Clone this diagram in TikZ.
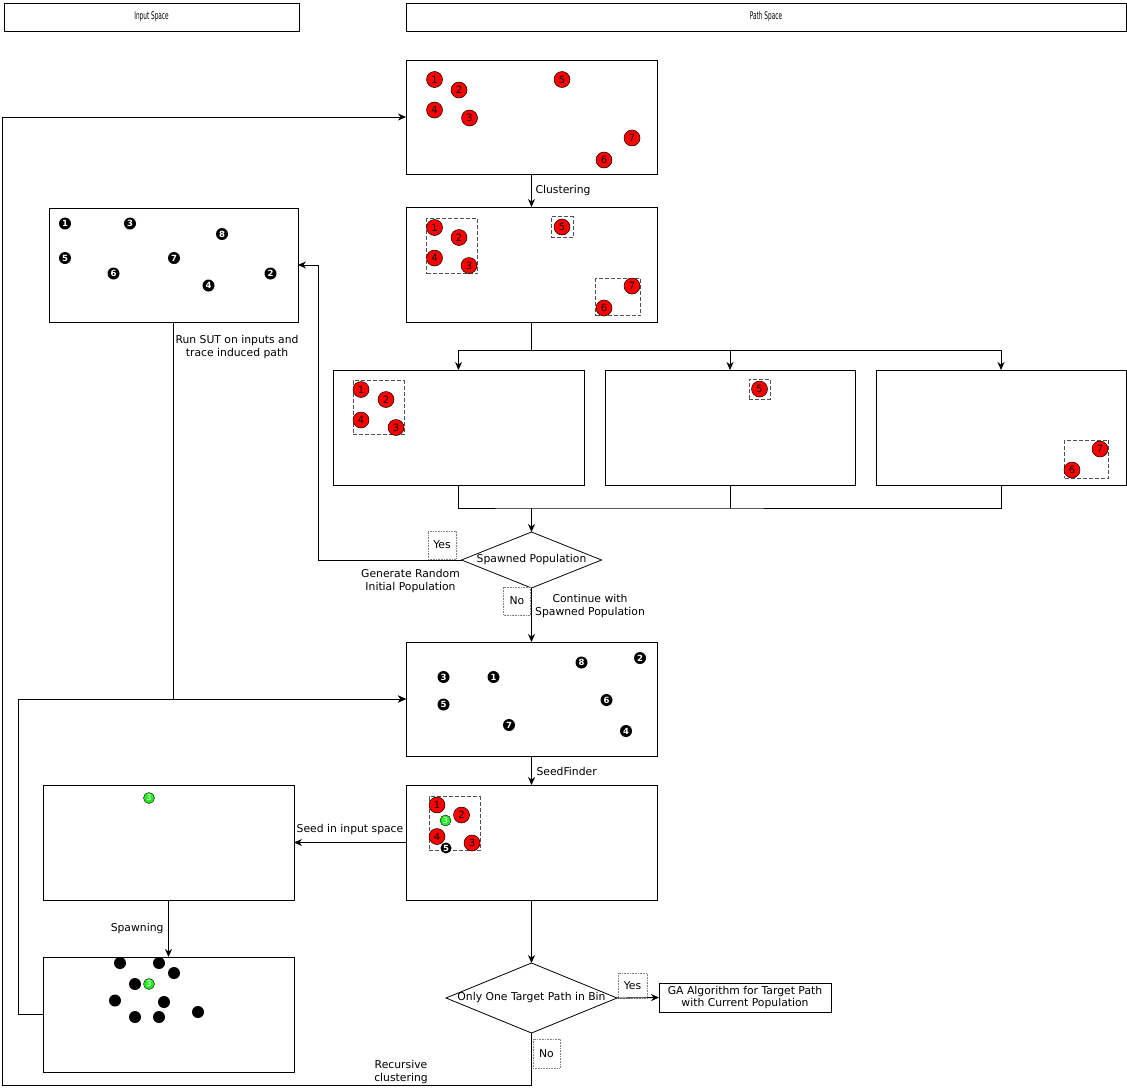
\documentclass[tikz,border=0pt]{standalone}
\usepackage{fontspec}
\setmainfont{DejaVu Sans}
\newfontfamily\narrowfont[FakeStretch=0.55]{DejaVu Sans}
\usetikzlibrary{arrows.meta,shapes.geometric}

\definecolor{ptred}{RGB}{255,0,0}
\definecolor{ptgreen}{RGB}{40,235,40}
\definecolor{dashgray}{RGB}{80,80,80}

\begin{document}
\begin{tikzpicture}[x=1pt,y=-1pt,
  font=\fontsize{10.8}{13}\selectfont,
  panel/.style={draw, line width=0.8pt, inner sep=0pt, outer sep=0pt, anchor=north west},
  header/.style={panel, font=\narrowfont\fontsize{10.5}{11}\selectfont},
  arr/.style={line width=0.8pt, -{Stealth[length=8pt,width=7pt]}},
  conn/.style={line width=0.8pt},
  cluster/.style={draw=dashgray, line width=0.8pt, dash pattern=on 4pt off 2pt, inner sep=0pt, outer sep=0pt, anchor=north west},
  redpt/.style={circle, draw=black, line width=0.5pt, fill=ptred, inner sep=0pt, minimum size=16pt, font=\fontsize{10}{10}\selectfont},
  blkpt/.style={circle, fill=black, text=white, inner sep=0pt, minimum size=12pt, font=\bfseries\fontsize{8.5}{8.5}\selectfont},
  grnpt/.style={circle, draw=black, line width=0.4pt, fill=ptgreen, text=white, inner sep=0pt, minimum size=11pt, font=\fontsize{8}{8}\selectfont},
  dotpt/.style={circle, fill=black, inner sep=0pt, minimum size=12pt},
  tag/.style={draw=gray, densely dotted, line width=0.6pt, inner sep=0pt, outer sep=0pt},
  decision/.style={diamond, draw, line width=0.8pt, inner sep=0pt, outer sep=0pt}
]
\useasboundingbox (0,0) rectangle (1127,1090);

% ---------- column headers ----------
\node[header, minimum width=295pt, minimum height=28pt] (hin) at (4,3) {Input Space};
\node[header, minimum width=720pt, minimum height=28pt] (hpath) at (406,3) {Path Space};

% ---------- panels ----------
\node[panel, minimum width=251pt, minimum height=114pt] (A) at (406,60) {};
\node[panel, minimum width=251pt, minimum height=115pt] (B) at (406,207) {};
\node[panel, minimum width=249pt, minimum height=114pt] (In1) at (49,208) {};
\node[panel, minimum width=251pt, minimum height=115pt] (C1) at (333,370) {};
\node[panel, minimum width=250pt, minimum height=115pt] (C2) at (605,370) {};
\node[panel, minimum width=250pt, minimum height=115pt] (C3) at (876,370) {};
\node[panel, minimum width=251pt, minimum height=114pt] (P) at (406,642) {};
\node[panel, minimum width=251pt, minimum height=115pt] (S) at (406,785) {};
\node[panel, minimum width=251pt, minimum height=115pt] (In2) at (43,785) {};
\node[panel, minimum width=251pt, minimum height=115pt] (In3) at (43,957) {};
\node[panel, minimum width=172pt, minimum height=29pt, align=center, font=\fontsize{10.8}{12}\selectfont] (GA) at (659,983) {GA Algorithm for Target Path\\with Current Population};

% ---------- decisions ----------
\node[decision, minimum width=140pt, minimum height=56pt] (D1) at (531.5,560) {};
\node (D1t) at (D1.center) {Spawned Population};
\node[decision, minimum width=171pt, minimum height=70pt] (D2) at (531.5,998) {};
\node (D2t) at (D2.center) {Only One Target Path in Bin};

% ---------- answer tags ----------
\node[tag, minimum width=28pt, minimum height=28pt] (yes1) at (442,545) {Yes};
\node[tag, minimum width=27pt, minimum height=28pt] (no1) at (517,601) {No};
\node[tag, minimum width=29pt, minimum height=25pt] (yes2) at (632.5,985.5) {Yes};
\node[tag, minimum width=27pt, minimum height=29pt] (no2) at (546.5,1053.5) {No};

% ---------- path space: all paths ----------
\node[redpt] (a1) at (434.5,79.5) {1};
\node[redpt] (a2) at (459,90) {2};
\node[redpt] (a4) at (434.5,110) {4};
\node[redpt] (a3) at (469.5,118) {3};
\node[redpt] (a5) at (562,79.5) {5};
\node[redpt] (a7) at (632,138) {7};
\node[redpt] (a6) at (604,160) {6};

% ---------- path space: clustered ----------
\node[cluster, minimum width=51pt, minimum height=55pt] (bk1) at (426.5,218.5) {};
\node[cluster, minimum width=22pt, minimum height=21pt] (bk2) at (551,216.5) {};
\node[cluster, minimum width=45pt, minimum height=37pt] (bk3) at (595.5,278.5) {};
\node[redpt] (b1) at (434.5,227.5) {1};
\node[redpt] (b2) at (459,237.5) {2};
\node[redpt] (b4) at (434.5,258) {4};
\node[redpt] (b3) at (469,265.5) {3};
\node[redpt] (b5) at (562,227) {5};
\node[redpt] (b7) at (632,286) {7};
\node[redpt] (b6) at (604,308) {6};

% ---------- bins ----------
\node[cluster, minimum width=51pt, minimum height=54pt] (ck1) at (353,380.5) {};
\node[redpt] (c1) at (361,389.5) {1};
\node[redpt] (c2) at (386,399.5) {2};
\node[redpt] (c4) at (361,420) {4};
\node[redpt] (c3) at (396,427.5) {3};

\node[cluster, minimum width=21pt, minimum height=20pt] (ck2) at (749,379) {};
\node[redpt] (c5) at (759.5,389) {5};

\node[cluster, minimum width=44pt, minimum height=38pt] (ck3) at (1064.5,440) {};
\node[redpt] (c7) at (1100,449) {7};
\node[redpt] (c6) at (1072,470) {6};

% ---------- input space: initial inputs ----------
\node[blkpt] (i1) at (65,223.5) {1};
\node[blkpt] (i3) at (130,223.5) {3};
\node[blkpt] (i8) at (222,234) {8};
\node[blkpt] (i5) at (65,258) {5};
\node[blkpt] (i7) at (174,258) {7};
\node[blkpt] (i6) at (113.5,273.5) {6};
\node[blkpt] (i2) at (270.5,273.5) {2};
\node[blkpt] (i4) at (208.5,285.5) {4};

% ---------- path space: induced paths ----------
\node[blkpt] (p3) at (443.5,677) {3};
\node[blkpt] (p1) at (493.5,677) {1};
\node[blkpt] (p8) at (581.5,662.5) {8};
\node[blkpt] (p2) at (640,658) {2};
\node[blkpt] (p5) at (443.5,704.5) {5};
\node[blkpt] (p6) at (606.5,700) {6};
\node[blkpt] (p7) at (509,725) {7};
\node[blkpt] (p4) at (626,731) {4};

% ---------- seed finding ----------
\node[cluster, minimum width=51pt, minimum height=54pt] (sk) at (429,796.5) {};
\node[redpt] (s1) at (437,805) {1};
\node[redpt] (s2) at (461.5,815) {2};
\node[redpt] (s4) at (437,836.5) {4};
\node[redpt] (s3) at (472,843) {3};
\node[grnpt] (s3g) at (445.5,820.5) {3};
\node[blkpt, minimum size=11pt] (s5) at (446,848) {5};

% ---------- input space: seed and spawned population ----------
\node[grnpt] (g3) at (149,798) {3};
\node[dotpt] (q1) at (120,963) {};
\node[dotpt] (q2) at (159,963) {};
\node[dotpt] (q3) at (174,973) {};
\node[dotpt] (q4) at (135,984) {};
\node[grnpt] (q5) at (149,984) {3};
\node[dotpt] (q6) at (115,1000.5) {};
\node[dotpt] (q7) at (164,1002) {};
\node[dotpt] (q8) at (198,1012) {};
\node[dotpt] (q9) at (135,1017) {};
\node[dotpt] (q10) at (159,1017) {};

% ---------- routing points ----------
\coordinate (split) at (531.5,350);
\coordinate (merge) at (531.5,508);
\coordinate (yesbend) at (318,560);
\coordinate (loopbend) at (18,699);
\coordinate (recdown) at (531.5,1085);
\coordinate (recleft) at (2,1085);

% ---------- connectors ----------
\draw[arr] (A.south) -- (B.north);
\node[anchor=west] (lclu) at (532,191) {Clustering};

\draw[line width=1.4pt] (B.south) -- (split);
\draw[arr] (split) -| (C1.north);
\draw[arr] (split) -| (C2.north);
\draw[arr] (split) -| (C3.north);

\draw[conn] (C1.south) |- (merge) -| (C3.south);
\draw[conn] (C2.south) -- (C2.south |- merge);
\draw[arr, line width=1.2pt] (merge) -- (D1.north);

\draw[arr] (D1.west) -- (yesbend) |- (In1.east);
\node[align=center] (lgen) at (410.5,581) {Generate Random\\Initial Population};

\draw[arr] (D1.south) -- (P.north);
\node[align=center] (lcont) at (590,606) {Continue with\\Spawned Population};

\draw[arr] (In1.south) |- (P.west);
\node[align=center] (lrun) at (237,347) {Run SUT on inputs and\\trace induced path};

\draw[arr] (In3.west) -| (loopbend) -- (P.west);

\draw[arr] (P.south) -- (S.north);
\node[anchor=west] (lseed) at (533,771) {SeedFinder};

\draw[arr] (S.west) -- (In2.east);
\node (lsin) at (350,830) {Seed in input space};

\draw[arr] (In2.south) -- (In3.north);
\node[anchor=east] (lspawn) at (167,929) {Spawning};

\draw[arr] (S.south) -- (D2.north);
\draw[arr] (D2.east) -- (GA.west);

\draw[arr] (D2.south) -- (recdown) -- (recleft) |- (A.west);
\node[align=center] (lrec) at (401,1072) {Recursive\\clustering};

\end{tikzpicture}
\end{document}
